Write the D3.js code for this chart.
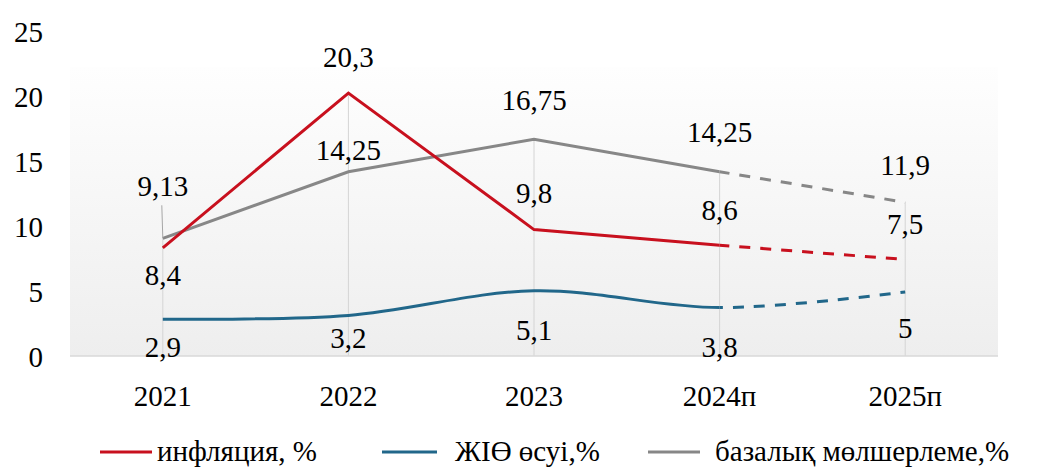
<!DOCTYPE html>
<html>
<head>
<meta charset="utf-8">
<script src="https://cdn.jsdelivr.net/npm/d3@7"></script>
<style>
  #chart text { font-family: 'Times New Roman', 'Liberation Serif', Tinos !important; }
</style>
</head>
<body style="margin:0">
<svg id="chart" width="1038" height="470"></svg>
<script>
// data
var years = ["2021", "2022", "2023", "2024п", "2025п"];
var inflation = [8.4, 20.3, 9.8, 8.6, 7.5];
var gdp = [2.9, 3.2, 5.1, 3.8, 5];
var baseRate = [9.13, 14.25, 16.75, 14.25, 11.9];
var yTicks = [0, 5, 10, 15, 20, 25];
var seriesNames = ["инфляция, %", "ЖІӨ өсуі,%", "базалық мөлшерлеме,%"];

// label offsets (dx, dy from point, px) per series
var infLabelOff = [[0, 27], [0, -36], [0, -37], [0, -35], [0, -36]];
var gdpLabelOff = [[0, 28], [0, 23], [0, 39], [0, 39], [0, 36]];
var rateLabelOff = [[0, -52], [0, -22], [0, -39], [0, -40], [0, -37]];

var svg = d3.select("#chart");
var plot = {left: 70, right: 998, top: 67, bottom: 356};

var x = d3.scaleBand().domain(years).range([plot.left, plot.right]);
var y = d3.scaleLinear().domain([0, 25]).range([357, 32]);
function cx(i) { return x(years[i]) + x.bandwidth() / 2; }

// background gradient
var defs = svg.append("defs");
var grad = defs.append("linearGradient").attr("id", "bg")
    .attr("x1", 0).attr("y1", 0).attr("x2", 0).attr("y2", 1);
grad.append("stop").attr("offset", "0%").attr("stop-color", "#fefefe");
grad.append("stop").attr("offset", "100%").attr("stop-color", "#eeeeee");

svg.append("rect")
    .attr("x", plot.left).attr("y", plot.top)
    .attr("width", plot.right - plot.left).attr("height", plot.bottom - plot.top)
    .attr("fill", "url(#bg)");

// clip areas for solid (actual) and dashed (forecast) parts
var splitX = cx(3);
defs.append("clipPath").attr("id", "solidClip").append("rect")
    .attr("x", 0).attr("y", 0).attr("width", splitX).attr("height", 470);
defs.append("clipPath").attr("id", "dashClip").append("rect")
    .attr("x", splitX).attr("y", 0).attr("width", 1038 - splitX).attr("height", 470);

// drop lines
years.forEach(function(d, i) {
    var top = d3.max([inflation[i], gdp[i], baseRate[i]]);
    svg.append("line")
        .attr("x1", cx(i)).attr("x2", cx(i))
        .attr("y1", y(top)).attr("y2", plot.bottom)
        .attr("stroke", "#d4d4d4").attr("stroke-width", 1);
});

// x axis line
svg.append("line")
    .attr("x1", plot.left).attr("x2", plot.right)
    .attr("y1", plot.bottom).attr("y2", plot.bottom)
    .attr("stroke", "#d9d9d9").attr("stroke-width", 1.5);

var texts = svg.append("g").attr("font-family", "Times New Roman").attr("font-size", 29);

// y tick labels
texts.selectAll(".ytick")
  .data(yTicks)
  .enter().append("text")
    .attr("x", 43)
    .attr("y", function(d) { return y(d) + 10; })
    .attr("text-anchor", "end")
    .text(function(d) { return d; });

// x tick labels
texts.selectAll(".xtick")
  .data(years)
  .enter().append("text")
    .attr("x", function(d, i) { return cx(i); })
    .attr("y", 406)
    .attr("text-anchor", "middle")
    .text(function(d) { return d; });

function drawSeries(vals, color, curve) {
    var line = d3.line()
        .x(function(d, i) { return cx(i); })
        .y(function(d) { return y(d); })
        .curve(curve);
    svg.append("path")
        .attr("d", line(vals))
        .attr("fill", "none").attr("stroke", color).attr("stroke-width", 3)
        .attr("clip-path", "url(#solidClip)");
    svg.append("path")
        .attr("d", line(vals))
        .attr("fill", "none").attr("stroke", color).attr("stroke-width", 3)
        .attr("stroke-dasharray", "11,10")
        .attr("stroke-dashoffset", -6)
        .attr("clip-path", "url(#dashClip)");
}

drawSeries(baseRate, "#878787", d3.curveLinear);
drawSeries(gdp, "#21678a", d3.curveCatmullRom.alpha(0.5));
drawSeries(inflation, "#c8101e", d3.curveLinear);

function fmt(v) { return String(v).replace(".", ","); }

var labels = svg.append("g").attr("font-family", "Times New Roman").attr("font-size", 29);

function drawLabels(vals, offs) {
    labels.selectAll(null)
      .data(vals)
      .enter().append("text")
        .attr("x", function(d, i) { return cx(i) + offs[i][0]; })
        .attr("y", function(d, i) { return y(d) + offs[i][1] + 10; })
        .attr("text-anchor", "middle")
        .text(function(d) { return fmt(d); });
}

drawLabels(inflation, infLabelOff);
drawLabels(gdp, gdpLabelOff);
drawLabels(baseRate, rateLabelOff);

// leader line for the 9,13 label
svg.append("line")
    .attr("x1", cx(0) - 1).attr("x2", cx(0))
    .attr("y1", y(baseRate[0]) + rateLabelOff[0][1] + 19)
    .attr("y2", y(baseRate[0]))
    .attr("stroke", "#a6a6a6").attr("stroke-width", 1);

// legend
var legendColors = ["#c8101e", "#21678a", "#878787"];
var legendX = [100, 382, 648];
var legendLen = [52, 55, 52];
var legendGap = [5, 18, 15];
var legY = 452;
var legend = svg.append("g").attr("font-family", "Times New Roman").attr("font-size", 29);
seriesNames.forEach(function(name, i) {
    legend.append("line")
        .attr("x1", legendX[i]).attr("x2", legendX[i] + legendLen[i])
        .attr("y1", legY).attr("y2", legY)
        .attr("stroke", legendColors[i]).attr("stroke-width", 3);
    legend.append("text")
        .attr("x", legendX[i] + legendLen[i] + legendGap[i])
        .attr("y", legY + 9)
        .text(name);
});
</script>
</body>
</html>
